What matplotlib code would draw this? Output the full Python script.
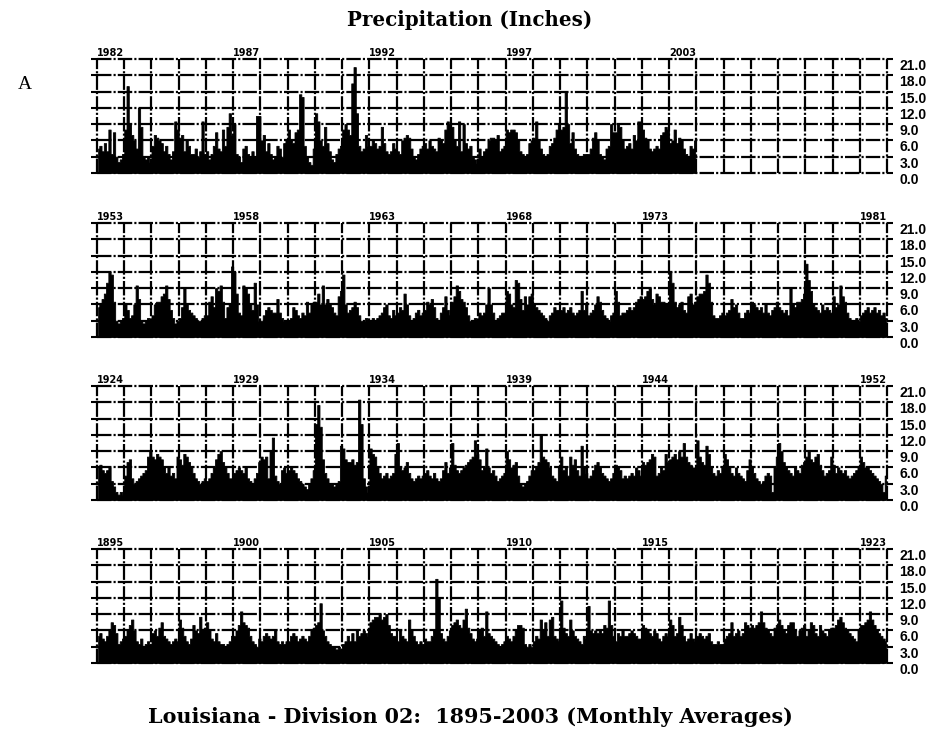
import numpy as np
import matplotlib
matplotlib.use("Agg")
import matplotlib.pyplot as plt

# monthly precipitation (inches), one row per year (Jan..Dec)
precip_1895_1923 = [
    5.0, 5.5, 4.5, 4.0, 5.0, 6.0, 7.5, 7.0, 5.5, 3.5, 4.0, 4.5,   # 1895
    5.0, 6.0, 7.0, 8.0, 6.0, 4.0, 3.5, 4.5, 3.0, 3.5, 4.0, 3.5,   # 1896
    5.5, 6.0, 5.0, 6.5, 7.5, 5.0, 4.5, 4.0, 3.5, 4.0, 4.5, 4.0,   # 1897
    8.0, 6.5, 5.0, 4.0, 3.5, 4.5, 7.0, 6.0, 5.5, 8.5, 6.0, 6.5,   # 1898
    7.5, 6.0, 4.5, 4.0, 5.5, 4.0, 3.5, 3.5, 3.0, 3.5, 4.0, 5.0,   # 1899
    5.0, 6.0, 7.0, 9.5, 7.5, 7.0, 6.5, 5.0, 4.0, 3.5, 3.0, 4.5,   # 1900
    4.0, 5.0, 5.5, 5.0, 4.5, 5.0, 6.0, 4.0, 3.5, 4.0, 3.5, 4.0,   # 1901
    4.0, 5.0, 5.5, 5.0, 4.0, 4.5, 5.0, 4.5, 4.0, 5.0, 6.0, 6.5,   # 1902
    7.0, 7.5, 11.0, 6.0, 5.0, 4.0, 3.5, 3.0, 3.0, 2.5, 3.0, 2.5,  # 1903
    3.5, 4.0, 5.0, 4.0, 5.5, 4.0, 6.0, 5.0, 5.5, 6.0, 5.5, 5.0,   # 1904
    7.5, 8.0, 8.5, 8.5, 9.0, 8.0, 8.5, 9.0, 7.0, 5.5, 5.0, 5.0,   # 1905
    4.0, 6.0, 5.0, 4.5, 4.0, 8.0, 6.0, 5.0, 4.0, 3.5, 4.0, 3.5,   # 1906
    4.5, 4.0, 4.0, 5.0, 6.0, 15.5, 12.0, 5.5, 4.5, 4.0, 5.0, 6.0, # 1907
    7.0, 7.5, 8.0, 7.0, 6.5, 8.0, 10.0, 6.5, 5.5, 4.5, 4.0, 4.5,  # 1908
    6.0, 6.5, 5.0, 9.5, 5.5, 5.0, 4.5, 4.0, 3.5, 3.0, 3.5, 4.0,   # 1909
    5.0, 4.5, 4.0, 5.0, 6.0, 7.0, 7.0, 6.5, 3.5, 3.0, 3.5, 3.0,   # 1910
    4.0, 5.0, 4.5, 8.0, 6.0, 7.5, 5.0, 8.0, 8.5, 5.0, 4.5, 4.0,   # 1911
    11.5, 6.5, 5.5, 5.0, 8.0, 6.0, 5.0, 4.5, 4.0, 3.5, 5.0, 4.5,  # 1912
    10.5, 6.0, 5.5, 6.0, 5.5, 6.0, 5.5, 7.0, 6.5, 11.5, 7.0, 5.0, # 1913
    4.0, 5.5, 5.0, 6.0, 5.0, 5.0, 5.5, 6.0, 5.5, 5.0, 4.5, 4.5,   # 1914
    7.0, 6.5, 6.0, 5.5, 5.0, 6.0, 5.5, 4.5, 4.0, 5.0, 5.5, 5.0,   # 1915
    8.0, 7.0, 5.0, 5.5, 8.5, 7.0, 5.0, 4.0, 4.5, 5.5, 4.5, 4.0,   # 1916
    5.0, 5.5, 5.0, 4.5, 5.0, 5.5, 4.0, 3.5, 3.5, 4.0, 3.5, 3.5,   # 1917
    4.5, 5.0, 5.5, 7.5, 5.0, 5.5, 6.0, 5.0, 5.5, 7.5, 7.0, 6.5,   # 1918
    7.0, 6.5, 7.0, 7.5, 9.5, 7.5, 6.5, 6.0, 5.5, 5.0, 6.5, 7.0,   # 1919
    8.0, 7.0, 6.0, 5.5, 7.0, 7.5, 7.5, 6.0, 5.0, 6.0, 6.5, 7.0,   # 1920
    5.0, 6.0, 7.5, 7.0, 5.5, 5.0, 7.0, 6.0, 5.5, 5.0, 6.0, 6.5,   # 1921
    6.5, 7.0, 8.0, 8.5, 7.5, 6.5, 6.0, 5.5, 5.0, 4.5, 4.0, 6.0,   # 1922
    7.0, 7.0, 7.5, 8.0, 9.5, 8.0, 7.0, 6.0, 5.5, 5.0, 4.5, 4.0,   # 1923
]

precip_1924_1952 = [
    6.0, 6.5, 5.5, 5.0, 5.5, 6.0, 3.5, 2.5, 1.5, 1.0, 1.5, 1.0,   # 1924
    4.5, 7.0, 7.5, 4.0, 3.0, 3.5, 4.0, 4.5, 5.0, 5.5, 8.0, 9.0,   # 1925
    8.0, 7.5, 8.5, 8.0, 7.5, 6.0, 5.0, 6.0, 4.5, 5.0, 4.0, 8.0,   # 1926
    7.5, 6.5, 8.5, 8.0, 7.0, 6.0, 5.0, 4.0, 3.5, 3.0, 3.5, 4.0,   # 1927
    3.5, 4.0, 5.0, 6.0, 7.5, 8.5, 9.0, 7.0, 6.0, 5.0, 4.0, 4.0,   # 1928
    5.0, 5.5, 6.0, 5.5, 5.0, 6.0, 4.0, 3.5, 3.0, 4.0, 5.0, 7.0,   # 1929
    8.0, 7.5, 8.0, 4.0, 9.0, 11.5, 4.5, 3.5, 3.0, 5.5, 6.0, 5.0,  # 1930
    5.5, 6.0, 5.5, 5.0, 4.0, 3.5, 3.0, 2.5, 2.0, 3.0, 4.0, 5.5,   # 1931
    14.0, 17.5, 13.5, 7.5, 5.0, 4.0, 3.0, 3.0, 2.5, 3.0, 3.5, 10.0, # 1932
    9.5, 7.5, 7.0, 7.0, 7.5, 6.5, 7.0, 18.5, 14.0, 4.0, 2.5, 1.5, # 1933
    9.5, 8.5, 8.0, 6.0, 5.0, 4.0, 4.5, 5.0, 4.0, 4.5, 5.0, 8.5,   # 1934
    10.5, 6.0, 5.5, 6.0, 7.0, 5.0, 4.0, 3.5, 4.0, 4.5, 4.0, 4.5,  # 1935
    5.0, 5.5, 4.5, 4.0, 5.0, 4.0, 3.5, 4.0, 5.5, 7.0, 5.0, 6.0,   # 1936
    10.5, 6.5, 5.5, 5.0, 5.5, 6.0, 6.5, 7.0, 7.5, 8.0, 11.0, 8.5, # 1937
    7.5, 5.5, 6.0, 9.5, 6.0, 5.0, 5.5, 4.5, 3.5, 4.0, 4.5, 5.0,   # 1938
    9.0, 7.5, 6.0, 6.5, 7.0, 4.5, 3.0, 2.5, 3.0, 3.5, 4.5, 5.5,   # 1939
    5.5, 6.0, 7.0, 12.0, 8.0, 7.5, 7.0, 6.0, 4.5, 4.0, 3.5, 6.0,  # 1940
    8.0, 5.5, 6.0, 4.5, 8.0, 6.5, 7.5, 5.5, 4.5, 10.0, 6.0, 5.0,  # 1941
    4.0, 4.5, 5.5, 6.5, 7.0, 6.0, 5.0, 4.5, 4.0, 3.5, 4.0, 5.0,   # 1942
    6.5, 6.0, 5.5, 4.0, 4.5, 4.0, 4.5, 5.0, 4.5, 6.0, 5.5, 4.5,   # 1943
    7.0, 6.5, 7.0, 7.5, 8.5, 8.0, 4.5, 5.0, 6.0, 5.5, 8.5, 7.0,   # 1944
    7.5, 8.0, 8.5, 7.5, 9.0, 8.0, 10.5, 8.0, 7.0, 6.5, 6.0, 6.0,  # 1945
    11.0, 8.0, 7.0, 6.5, 10.0, 8.5, 6.0, 5.0, 4.5, 5.5, 5.0, 6.0, # 1946
    8.5, 7.5, 6.0, 5.0, 4.5, 6.0, 5.0, 4.5, 4.0, 3.5, 5.5, 7.5,   # 1947
    6.0, 5.0, 4.0, 3.5, 3.0, 3.5, 4.5, 5.0, 4.5, 1.5, 6.0, 8.0,   # 1948
    10.5, 9.0, 7.0, 6.0, 5.5, 5.0, 4.5, 6.0, 5.5, 5.0, 6.5, 7.0,  # 1949
    8.0, 9.0, 7.5, 7.0, 8.0, 8.5, 6.5, 5.5, 4.5, 5.0, 5.5, 8.0,   # 1950
    6.5, 5.0, 6.0, 5.5, 5.0, 5.5, 4.5, 4.0, 4.5, 5.0, 5.5, 6.0,   # 1951
    8.0, 7.0, 6.0, 6.0, 5.5, 5.0, 4.5, 4.0, 3.5, 3.0, 1.5, 4.5,   # 1952
]

precip_1953_1981 = [
    5.5, 6.0, 7.0, 8.0, 10.0, 12.0, 11.5, 6.5, 3.0, 2.5, 3.0, 3.5, # 1953
    6.0, 5.0, 3.5, 4.0, 6.0, 9.5, 7.0, 3.0, 2.5, 3.0, 3.5, 3.0,   # 1954
    4.0, 6.0, 6.5, 6.5, 7.5, 8.0, 9.5, 7.0, 5.0, 3.5, 2.5, 3.0,   # 1955
    3.5, 5.5, 9.0, 6.0, 5.0, 4.5, 4.0, 3.5, 3.0, 3.0, 3.5, 4.0,   # 1956
    4.0, 6.5, 7.5, 5.5, 9.0, 8.5, 9.5, 6.5, 3.5, 5.5, 6.0, 13.0,  # 1957
    12.0, 8.0, 4.5, 4.0, 9.5, 9.0, 8.0, 6.0, 5.0, 10.0, 6.0, 3.0, # 1958
    3.0, 4.0, 5.0, 5.5, 5.0, 4.5, 4.5, 7.0, 4.5, 3.5, 3.0, 3.0,   # 1959
    3.0, 3.5, 5.5, 5.0, 4.0, 3.5, 4.5, 4.0, 6.5, 4.5, 6.0, 6.5,   # 1960
    6.5, 8.0, 6.0, 9.5, 6.0, 7.0, 6.0, 5.5, 4.5, 4.0, 7.5, 8.5,   # 1961
    11.5, 6.0, 4.5, 5.0, 5.5, 6.5, 5.5, 4.0, 3.0, 3.0, 3.5, 3.0,  # 1962
    3.0, 3.5, 3.0, 3.5, 4.0, 4.5, 5.5, 6.0, 4.0, 3.5, 5.0, 4.0,   # 1963
    4.5, 5.5, 5.0, 8.0, 6.0, 4.0, 3.0, 3.5, 4.5, 5.0, 4.0, 4.5,   # 1964
    5.0, 6.5, 6.0, 7.0, 5.5, 3.5, 3.0, 4.5, 5.5, 7.5, 5.0, 4.0,   # 1965
    6.5, 7.5, 9.5, 8.5, 7.0, 6.5, 5.5, 4.0, 3.0, 3.0, 3.5, 3.0,   # 1966
    4.5, 4.0, 4.5, 6.0, 9.0, 6.0, 4.5, 3.0, 3.5, 4.0, 4.5, 4.5,   # 1967
    8.5, 8.0, 6.0, 5.5, 10.5, 10.0, 7.0, 5.0, 7.5, 6.0, 7.5, 8.0, # 1968
    6.0, 5.5, 5.0, 4.5, 4.0, 3.5, 3.0, 4.0, 4.5, 5.5, 5.0, 5.0,   # 1969
    5.0, 5.5, 4.5, 5.0, 5.5, 4.5, 4.0, 4.5, 5.0, 8.5, 5.0, 6.0,   # 1970
    4.0, 4.5, 5.0, 6.0, 7.5, 6.5, 5.0, 4.0, 3.5, 3.0, 4.0, 4.5,   # 1971
    8.5, 6.5, 4.0, 4.5, 4.5, 5.0, 5.5, 5.0, 5.5, 6.5, 7.0, 7.5,   # 1972
    7.0, 7.5, 8.5, 9.0, 7.0, 6.0, 8.0, 7.5, 6.5, 6.5, 6.0, 6.0,   # 1973
    12.0, 10.0, 6.5, 5.5, 6.0, 6.5, 5.0, 4.5, 7.5, 8.0, 6.0, 6.5, # 1974
    7.5, 8.0, 8.0, 8.5, 11.5, 10.0, 6.5, 4.0, 3.5, 3.5, 4.0, 4.5, # 1975
    4.0, 4.5, 5.0, 7.0, 5.5, 6.0, 4.5, 3.5, 3.5, 4.5, 5.0, 4.5,   # 1976
    6.5, 6.0, 5.5, 5.0, 5.5, 4.5, 6.0, 4.5, 4.0, 5.0, 5.5, 6.5,   # 1977
    5.5, 5.0, 4.5, 5.0, 4.0, 9.0, 6.0, 5.5, 6.5, 6.5, 7.0, 8.0,   # 1978
    13.5, 10.5, 8.5, 6.0, 5.5, 5.0, 4.5, 6.0, 5.0, 5.5, 5.0, 4.5, # 1979
    7.5, 5.5, 6.0, 9.5, 7.5, 6.5, 4.5, 3.5, 3.0, 3.0, 3.5, 3.0,   # 1980
    4.0, 4.5, 5.0, 5.5, 4.5, 5.0, 5.5, 4.5, 5.0, 4.0, 4.5, 3.5,   # 1981
]

precip_1982_2003 = [
    4.5, 5.0, 4.0, 5.5, 4.0, 8.0, 3.5, 7.5, 3.0, 2.0, 2.5, 3.5,   # 1982
    8.0, 16.0, 9.0, 7.0, 6.0, 4.5, 12.0, 8.5, 3.0, 2.5, 3.0, 2.0, # 1983
    5.0, 7.0, 6.5, 6.0, 5.5, 4.0, 5.0, 3.5, 2.5, 4.0, 9.5, 8.0,   # 1984
    6.5, 7.0, 4.0, 6.0, 5.0, 3.5, 3.5, 4.5, 3.0, 4.0, 9.5, 3.5,   # 1985
    4.0, 2.5, 3.5, 5.0, 7.5, 4.5, 4.0, 8.0, 5.0, 8.5, 11.0, 7.0,  # 1986
    9.0, 3.5, 3.0, 2.0, 4.5, 5.0, 3.5, 3.0, 4.0, 3.0, 10.5, 10.5, # 1987
    6.0, 7.0, 4.0, 5.5, 3.5, 2.5, 3.0, 5.0, 4.5, 3.0, 5.5, 6.0,   # 1988
    8.0, 6.0, 5.5, 7.5, 8.0, 14.5, 14.0, 5.0, 3.0, 2.0, 1.5, 4.5, # 1989
    11.0, 9.5, 6.0, 5.0, 8.5, 5.5, 4.0, 2.5, 2.0, 3.5, 4.5, 5.0,  # 1990
    8.0, 9.0, 8.0, 7.0, 16.5, 19.5, 11.0, 5.0, 4.0, 4.5, 7.0, 5.0, # 1991
    5.0, 6.0, 5.5, 4.5, 5.0, 8.5, 5.5, 4.0, 3.5, 4.0, 5.5, 4.5,   # 1992
    4.0, 3.5, 6.0, 6.5, 7.0, 6.5, 4.5, 3.0, 2.5, 3.5, 4.5, 5.0,   # 1993
    5.5, 4.5, 6.0, 5.0, 4.5, 4.0, 6.5, 6.0, 5.5, 8.0, 9.5, 9.0,   # 1994
    8.5, 6.0, 5.0, 9.5, 4.0, 9.0, 5.5, 4.5, 5.0, 3.0, 2.5, 1.8,   # 1995
    4.5, 3.0, 4.0, 4.5, 6.0, 6.5, 6.5, 6.0, 7.0, 4.0, 4.5, 5.0,   # 1996
    8.0, 7.5, 8.0, 8.0, 7.5, 6.0, 4.0, 3.5, 3.0, 3.5, 5.5, 6.0,   # 1997
    6.5, 9.5, 6.0, 4.5, 3.5, 3.0, 3.5, 5.0, 5.5, 6.5, 8.0, 9.0,   # 1998
    8.0, 8.5, 15.0, 9.0, 5.5, 7.5, 4.5, 3.5, 3.0, 3.0, 3.5, 3.5,  # 1999
    3.5, 4.5, 6.5, 7.5, 6.0, 3.5, 3.0, 2.5, 4.5, 5.0, 9.0, 7.5,   # 2000
    7.5, 9.0, 8.5, 6.0, 4.5, 5.0, 5.5, 4.5, 7.0, 6.0, 9.5, 9.5,   # 2001
    8.0, 6.5, 6.0, 4.5, 4.0, 4.5, 5.0, 4.5, 7.0, 7.5, 8.5, 8.0,   # 2002
    5.5, 6.0, 8.0, 5.5, 6.5, 6.0, 4.5, 3.5, 3.0, 5.0, 4.5, 6.0,   # 2003
]

panel_starts = [1982, 1953, 1924, 1895]
panel_data = [precip_1982_2003, precip_1953_1981, precip_1924_1952, precip_1895_1923]
year_labels = [
    [1982, 1987, 1992, 1997, 2003],
    [1953, 1958, 1963, 1968, 1973, 1981],
    [1924, 1929, 1934, 1939, 1944, 1952],
    [1895, 1900, 1905, 1910, 1915, 1923],
]
y_ticks = [0, 3, 6, 9, 12, 15, 18, 21]
y_ticklabels = ["0.0", "3.0", "6.0", "9.0", "12.0", "15.0", "18.0", "21.0"]
span_years = 29

fig = plt.figure(figsize=(9.4, 7.32), dpi=100)

panel_bottoms = [0.7637, 0.5396, 0.3169, 0.0943]
grid_ls = (0, (6.5, 0.95, 0.95, 0.95))

for start, vals, labels, bot in zip(panel_starts, panel_data, year_labels, panel_bottoms):
    ax = fig.add_axes([0.1032, bot, 0.8404, 0.1557])
    vals = np.array(vals)
    x = start + (np.arange(len(vals)) + 0.5) / 12.0
    ax.fill_between(x, 0, vals, step="mid", color="black", linewidth=0.6,
                    edgecolor="black", zorder=2)
    ax.set_xlim(start, start + span_years)
    ax.set_ylim(0, 21)

    for s in ax.spines.values():
        s.set_visible(False)

    # dash-dot grid, drawn by hand so the frame lines are not clipped
    ax.hlines(y_ticks, start, start + span_years, colors="black", linewidth=1.6,
              linestyles=[grid_ls], clip_on=False, zorder=3)
    ax.vlines(np.arange(start, start + span_years + 1), 0, 21, colors="black",
              linewidth=1.6, linestyles=[grid_ls], clip_on=False, zorder=3)

    ax.set_xticks([])
    ax.set_yticks(y_ticks)
    ax.set_yticklabels(y_ticklabels)
    ax.tick_params(axis="y", left=True, right=True, labelleft=False, labelright=True,
                   direction="out", length=4, width=1.5, pad=5)
    for t in ax.get_yticklabels():
        t.set_fontfamily("Liberation Sans")
        t.set_fontweight("bold")
        t.set_fontsize(10)
        t.set_verticalalignment("top")

    for yr in labels:
        ax.text(yr, 21.2, str(yr), ha="left", va="bottom", fontsize=7,
                fontweight="bold", family="DejaVu Sans")

fig.text(0.5, 0.972, "Precipitation (Inches)", ha="center", va="center",
         fontsize=14.3, fontweight="bold", family="DejaVu Serif")
fig.text(0.5, 0.020, "Louisiana - Division 02:  1895-2003 (Monthly Averages)",
         ha="center", va="center", fontsize=14.9, fontweight="bold",
         family="DejaVu Serif")
fig.text(0.019, 0.884, "A", ha="left", va="center", fontsize=14,
         family="Liberation Serif")

fig.savefig("out.png", dpi=100, facecolor="white")
